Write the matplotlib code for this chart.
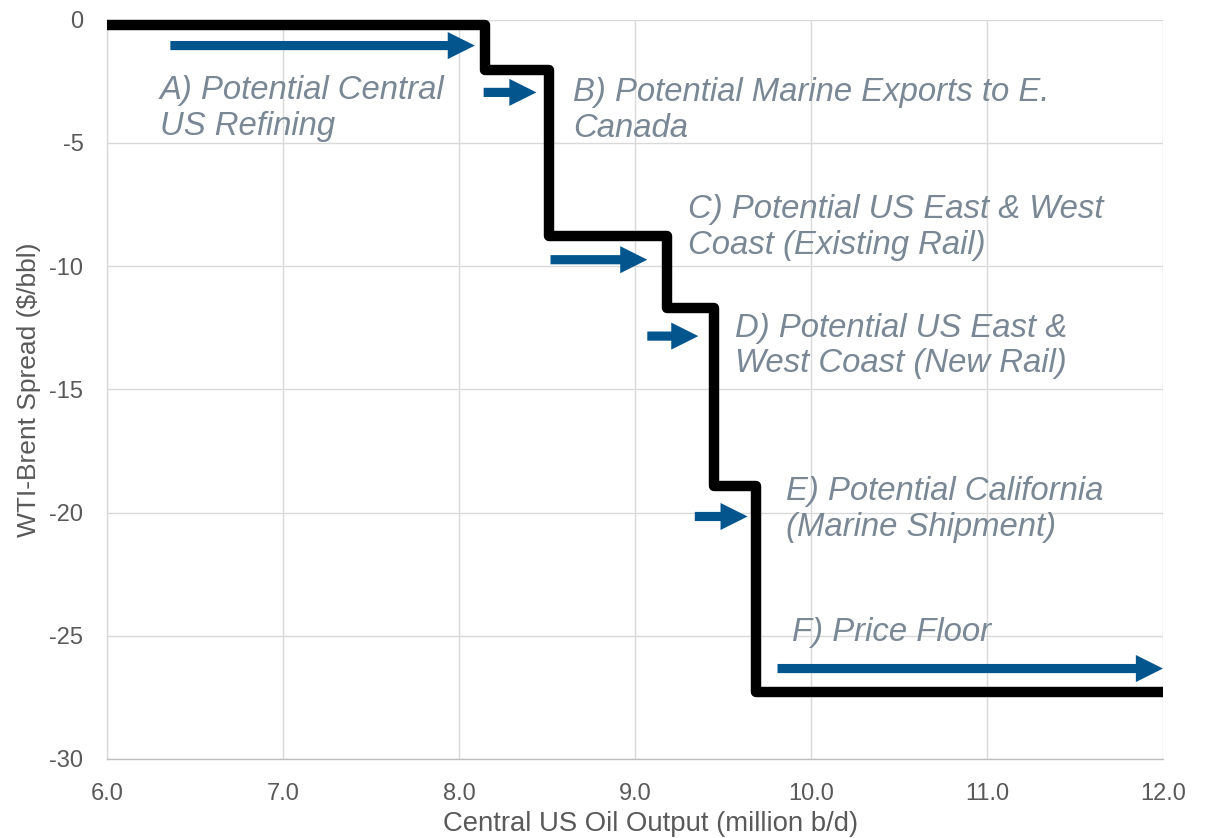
import matplotlib
matplotlib.use("Agg")
import matplotlib.pyplot as plt

# Step curve (supply-cost curve)
step_x = [6.0, 8.15, 8.51, 9.18, 9.45, 9.69, 12.0]
step_y = [-0.2, -2.06, -8.76, -11.7, -18.93, -27.29, -27.29]

# Arrows: start x, end x, y
arrow_x0 = [6.36, 8.14, 8.52, 9.07, 9.34, 9.81]
arrow_x1 = [8.09, 8.44, 9.07, 9.36, 9.64, 12.0]
arrow_y = [-1.05, -2.95, -9.74, -12.84, -20.16, -26.33]

# Labels: text, x, y (last-line baseline)
labels = [
    "A) Potential Central\nUS Refining",
    "B) Potential Marine Exports to E.\nCanada",
    "C) Potential US East & West\nCoast (Existing Rail)",
    "D) Potential US East &\nWest Coast (New Rail)",
    "E) Potential California\n(Marine Shipment)",
    "F) Price Floor",
]
label_x = [6.30, 8.65, 9.30, 9.57, 9.86, 9.89]
label_y = [-4.67, -4.77, -9.51, -14.31, -20.96, -25.23]

x_ticks = [6.0, 7.0, 8.0, 9.0, 10.0, 11.0, 12.0]
y_ticks = [0, -5, -10, -15, -20, -25, -30]

fig = plt.figure(figsize=(12.05, 8.38), dpi=100)
ax = fig.add_axes([0.0888, 0.0943, 0.9651 - 0.0888, 0.9765 - 0.0943])

ax.set_xlim(6.0, 12.0)
ax.set_ylim(-30, 0)
ax.set_xticks(x_ticks)
ax.set_xticklabels([f"{v:.1f}" for v in x_ticks])
ax.set_yticks(y_ticks)
ax.set_yticklabels([str(v) for v in y_ticks])
ax.grid(True, color="#D9D9D9", linewidth=1.0)
ax.set_axisbelow(True)
for s in ["top", "right"]:
    ax.spines[s].set_visible(False)
ax.spines["left"].set_color("#D9D9D9")
ax.spines["bottom"].set_color("#BFBFBF")
ax.spines["left"].set_linewidth(1.0)
ax.spines["bottom"].set_linewidth(1.0)
ax.tick_params(length=0, labelsize=17, labelcolor="#595959")
ax.tick_params(axis="x", pad=17)
ax.tick_params(axis="y", pad=17)
for lab in ax.get_xticklabels() + ax.get_yticklabels():
    lab.set_fontfamily("Liberation Sans")

ax.set_xlabel("Central US Oil Output (million b/d)", fontsize=19.8, color="#595959",
              family="Liberation Sans")
ax.xaxis.set_label_coords(0.5147, -0.071, transform=ax.transAxes)
ax.xaxis.label.set_va("top")
ax.set_ylabel("WTI-Brent Spread ($/bbl)", fontsize=19, color="#595959",
              family="Liberation Sans", labelpad=6)

ax.step(step_x, step_y, where="post", color="black", linewidth=7.5,
        solid_joinstyle="round", solid_capstyle="butt", clip_on=False, zorder=3)

for x0, x1, y in zip(arrow_x0, arrow_x1, arrow_y):
    ax.annotate("", xy=(x1, y), xytext=(x0, y),
                arrowprops=dict(arrowstyle="simple,head_length=1.95,head_width=1.95,tail_width=0.66",
                                mutation_scale=10, color="#03558E", shrinkA=0, shrinkB=0,
                                linewidth=0),
                annotation_clip=False, zorder=4)

for t, x, y in zip(labels, label_x, label_y):
    ax.text(x, y, t, fontsize=23.7, style="italic", color="#7A8794",
            family="Liberation Sans", va="baseline", ha="left", linespacing=1.2, zorder=5)

fig.savefig("out.png", dpi=100)
